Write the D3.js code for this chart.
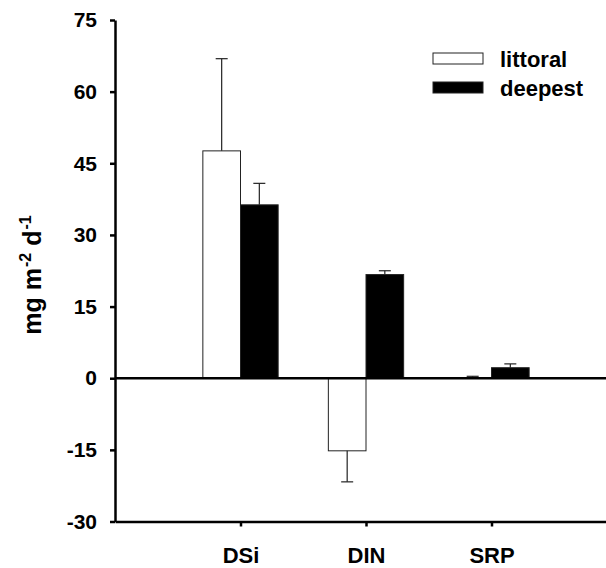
<!DOCTYPE html>
<html>
<head>
<meta charset="utf-8">
<script src="https://cdn.jsdelivr.net/npm/d3@7"></script>
<style>
  html, body { margin: 0; padding: 0; background: #fff; }
  svg { display: block; font-family: "Liberation Sans", Arial, sans-serif; font-weight: bold; }
</style>
</head>
<body>
<svg id="chart" width="606" height="568"></svg>
<script>
// Nutrient fluxes (mg m-2 d-1) at littoral and deepest stations
const categories = ["DSi", "DIN", "SRP"];
const series = ["littoral", "deepest"];
const littoral = [47.6, -15.2, 0.1];
const littoralErr = [19.3, 6.5, 0.3];
const deepest = [36.3, 21.7, 2.2];
const deepestErr = [4.5, 0.8, 0.8];
const yTicks = [-30, -15, 0, 15, 30, 45, 60, 75];

const FONT = "Liberation Sans, Arial, sans-serif";
const svg = d3.select("#chart");
const x = d3.scaleLinear().domain([0, 4]).range([115, 617]);
const y = d3.scaleLinear().domain([-30, 75]).range([521.5, 20]);
const barW = 0.3;     // bar width in category units
const capW = 12;

const rows = [];
categories.forEach((c, i) => {
  rows.push({cat: i + 1, v: littoral[i], e: littoralErr[i], s: 0});
  rows.push({cat: i + 1, v: deepest[i], e: deepestErr[i], s: 1});
});
const fills = ["#fff", "#000"];

// bars
svg.append("g").selectAll("rect").data(rows).join("rect")
  .attr("x", d => d.s === 0 ? x(d.cat - barW) : x(d.cat))
  .attr("width", d => x(barW) - x(0))
  .attr("y", d => y(Math.max(0, d.v)))
  .attr("height", d => Math.abs(y(d.v) - y(0)))
  .attr("fill", d => fills[d.s])
  .attr("stroke", "#222").attr("stroke-width", 1);

// error bars, drawn away from zero
const eb = svg.append("g").attr("stroke", "#222").attr("stroke-width", 1.2);
rows.forEach(d => {
  const cx = d.s === 0 ? x(d.cat - barW / 2) : x(d.cat + barW / 2);
  const tip = d.v >= 0 ? d.v + d.e : d.v - d.e;
  eb.append("line").attr("x1", cx).attr("x2", cx).attr("y1", y(d.v)).attr("y2", y(tip));
  eb.append("line").attr("x1", cx - capW / 2).attr("x2", cx + capW / 2).attr("y1", y(tip)).attr("y2", y(tip));
});

// zero line
svg.append("line").attr("x1", x(0)).attr("x2", 606).attr("y1", y(0)).attr("y2", y(0))
  .attr("stroke", "#000").attr("stroke-width", 2.5);

// y axis
const yAxis = svg.append("g").attr("transform", `translate(${x(0)},0)`)
  .call(d3.axisLeft(y).tickValues(yTicks).tickFormat(d => String(d))
    .tickSize(5).tickPadding(13).tickSizeOuter(0));
yAxis.select(".domain").attr("stroke-width", 2.5);
yAxis.selectAll(".tick line").attr("stroke-width", 2.5);
yAxis.selectAll("text").attr("font-size", 21).attr("font-weight", "bold")
  .attr("font-family", FONT).attr("fill", "#000");

// x axis
const xAxis = svg.append("g").attr("transform", `translate(0,${y(-30)})`)
  .call(d3.axisBottom(x).tickValues([1, 2, 3]).tickFormat(d => categories[d - 1])
    .tickSize(5).tickPadding(21).tickSizeOuter(0));
xAxis.select(".domain").attr("stroke-width", 2.5);
xAxis.selectAll(".tick line").attr("stroke-width", 2.5);
xAxis.selectAll("text").attr("font-size", 22).attr("font-weight", "bold")
  .attr("font-family", FONT).attr("fill", "#000");

// y axis title
const title = svg.append("text")
  .attr("transform", "translate(41,275) rotate(-90)")
  .attr("text-anchor", "middle").attr("font-size", 25);
title.append("tspan").text("mg m");
title.append("tspan").attr("dx", 1).attr("dy", -10).attr("font-size", 16).text("-2");
title.append("tspan").attr("dy", 10).text(" d");
title.append("tspan").attr("dx", 1).attr("dy", -10).attr("font-size", 16).text("-1");

// legend
const legend = svg.append("g").attr("transform", "translate(433,53)");
series.forEach((s, i) => {
  const g = legend.append("g").attr("transform", `translate(0,${i * 29})`);
  g.append("rect").attr("width", 50).attr("height", 11)
    .attr("fill", fills[i]).attr("stroke", "#222").attr("stroke-width", 1);
  g.append("text").attr("x", 67).attr("y", 14).attr("font-size", 22).text(s);
});
</script>
</body>
</html>
